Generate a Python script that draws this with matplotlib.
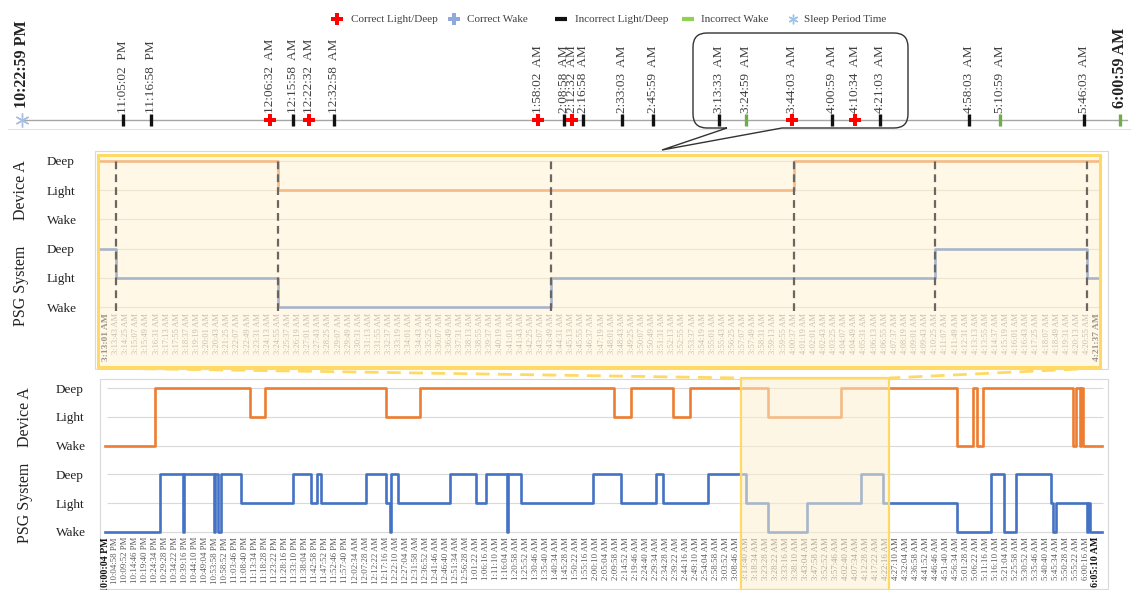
import matplotlib
matplotlib.use('Agg')
import matplotlib.pyplot as plt
from matplotlib.patches import Rectangle, PathPatch
from matplotlib.path import Path

W, H, DPI = 1134, 590, 100
plt.rcParams['font.family'] = ['Liberation Serif', 'DejaVu Serif']

# ---------------- data ----------------
stage_names = ['Wake', 'Light', 'Deep']

device_a_times = ['10:00:04 PM', '10:24:34 PM', '11:10:46 PM', '11:18:28 PM', '12:17:16 AM',
                  '12:34:04 AM', '2:09:16 AM', '2:17:40 AM', '2:37:58 AM', '2:46:22 AM',
                  '3:24:55 AM', '4:00:37 AM', '4:57:16 AM', '5:04:58 AM', '5:07:04 AM',
                  '5:09:52 AM', '5:53:58 AM', '5:55:22 AM', '5:57:28 AM', '5:58:10 AM',
                  '5:58:52 AM', '6:08:16 AM']
device_a_stages = ['Wake', 'Deep', 'Light', 'Deep', 'Light',
                   'Deep', 'Light', 'Deep', 'Light', 'Deep',
                   'Light', 'Deep', 'Wake', 'Deep', 'Wake',
                   'Deep', 'Wake', 'Deep', 'Wake', 'Deep',
                   'Wake', 'Wake']

psg_times = ['10:00:04 PM', '10:26:40 PM', '10:37:52 PM', '10:38:34 PM', '10:53:16 PM',
             '10:53:58 PM', '10:55:22 PM', '10:56:46 PM', '11:06:34 PM', '11:31:46 PM',
             '11:40:52 PM', '11:43:40 PM', '11:45:46 PM', '12:07:28 AM', '12:17:16 AM',
             '12:19:22 AM', '12:20:04 AM', '12:23:34 AM', '12:48:46 AM', '1:01:22 AM',
             '1:06:16 AM', '1:16:46 AM', '1:17:28 AM', '1:23:46 AM', '1:58:46 AM',
             '2:12:46 AM', '2:29:34 AM', '2:33:04 AM', '2:55:28 AM', '3:13:43 AM',
             '3:24:55 AM', '3:43:49 AM', '4:10:25 AM', '4:20:55 AM', '4:57:16 AM',
             '5:14:04 AM', '5:20:22 AM', '5:25:58 AM', '5:43:28 AM', '5:44:10 AM',
             '5:45:34 AM', '6:00:58 AM', '6:01:40 AM', '6:02:22 AM', '6:08:16 AM']
psg_stages = ['Wake', 'Deep', 'Wake', 'Deep', 'Wake',
              'Deep', 'Wake', 'Deep', 'Light', 'Deep',
              'Light', 'Deep', 'Light', 'Deep', 'Light',
              'Wake', 'Deep', 'Light', 'Deep', 'Light',
              'Deep', 'Wake', 'Deep', 'Light', 'Deep',
              'Light', 'Deep', 'Light', 'Deep', 'Light',
              'Wake', 'Light', 'Deep', 'Light', 'Wake',
              'Deep', 'Wake', 'Deep', 'Light', 'Wake',
              'Light', 'Wake', 'Light', 'Wake', 'Wake']

bottom_tick_first = '10:00:04 PM'
bottom_tick_step_s = 294
bottom_tick_count = 100

zoom_first = '3:13:01 AM'
zoom_last = '4:21:37 AM'
zoom_tick_step_s = 42
zoom_tick_count = 99

event_times = ['10:22:59 PM', '11:05:02 PM', '11:16:58 PM', '12:06:32 AM', '12:15:58 AM',
               '12:22:32 AM', '12:32:58 AM', '1:58:02 AM', '2:08:58 AM', '2:12:32 AM',
               '2:16:58 AM', '2:33:03 AM', '2:45:59 AM', '3:13:33 AM', '3:24:59 AM',
               '3:44:03 AM', '4:00:59 AM', '4:10:34 AM', '4:21:03 AM', '4:58:03 AM',
               '5:10:59 AM', '5:46:03 AM', '6:00:59 AM']
event_types = ['Sleep Period Time', 'Incorrect Light/Deep', 'Incorrect Light/Deep',
               'Correct Light/Deep', 'Incorrect Light/Deep', 'Correct Light/Deep',
               'Incorrect Light/Deep', 'Correct Light/Deep', 'Incorrect Light/Deep',
               'Correct Light/Deep', 'Incorrect Light/Deep', 'Incorrect Light/Deep',
               'Incorrect Light/Deep', 'Incorrect Light/Deep', 'Incorrect Wake',
               'Correct Light/Deep', 'Incorrect Light/Deep', 'Correct Light/Deep',
               'Incorrect Light/Deep', 'Incorrect Light/Deep', 'Incorrect Wake',
               'Incorrect Light/Deep', 'Incorrect Wake']

legend_items = ['Correct Light/Deep', 'Correct Wake', 'Incorrect Light/Deep',
                'Incorrect Wake', 'Sleep Period Time']

# ---------------- helpers ----------------
BASE = 22 * 3600 + 4  # clock seconds of the first epoch


def to_sec(s):
    hms, ap = s.split()
    h, m, sec = map(int, hms.split(':'))
    if ap == 'PM' and h != 12:
        h += 12
    if ap == 'AM' and h == 12:
        h = 0
    return (h * 3600 + m * 60 + sec - BASE) % 86400


def to_label(t):
    c = int(round(BASE + t)) % 86400
    h, rem = divmod(c, 3600)
    m, s = divmod(rem, 60)
    ap = 'AM' if h < 12 else 'PM'
    return f'{h % 12 or 12}:{m:02d}:{s:02d} {ap}'


dev_x = [to_sec(t) for t in device_a_times]
dev_y = [3 + stage_names.index(s) for s in device_a_stages]
psg_x = [to_sec(t) for t in psg_times]
psg_y = [stage_names.index(s) for s in psg_stages]

ORANGE = '#ED7D31'
BLUE = '#4472C4'
ORANGE_F = '#F4BA87'
BLUE_F = '#A7B5CA'

fig = plt.figure(figsize=(W / DPI, H / DPI), dpi=DPI)
fig.patch.set_facecolor('white')


def px_axes(x0, y0, x1, y1):
    return fig.add_axes([x0 / W, 1 - y1 / H, (x1 - x0) / W, (y1 - y0) / H])


# background decorations
ax_bg = px_axes(0, 0, W, H)
ax_bg.set_xlim(0, W); ax_bg.set_ylim(H, 0); ax_bg.axis('off')
ax_bg.add_patch(Rectangle((95, 151), 1108 - 95, 369 - 151, fc='white', ec='#D9D9D9', lw=0.8))
ax_bg.add_patch(Rectangle((98, 155), 1100 - 98, 367 - 155, fc='#FFF8E7', ec='none'))
ax_bg.add_patch(Rectangle((100, 379), 1108 - 100, 589 - 379, fc='white', ec='#D9D9D9', lw=0.8))
ax_bg.plot([8, 1130], [129, 129], color='#E3E3E3', lw=0.8)

# ---------------- timeline ----------------
ax_t = px_axes(10, 0, 1130, 135)
t0_evt = to_sec(event_times[0])
t1_evt = to_sec(event_times[-1])
sp = (t1_evt - t0_evt) / (1120 - 22)
ax_t.set_xlim(t0_evt - 12 * sp, t0_evt + (1130 - 22) * sp)
ax_t.set_ylim(135, 0)
ax_t.axis('off')
ax_t.plot([t0_evt, t0_evt + 1105 * sp], [120, 120], color='#A6A6A6', lw=1, zorder=1)

styles = {
    'Correct Light/Deep': dict(marker='P', color='#FF0000', ms=8, mew=0),
    'Correct Wake': dict(marker='P', color='#8EA9DB', ms=8, mew=0),
    'Incorrect Light/Deep': dict(marker='|', color='#111111', ms=8, mew=2.4),
    'Incorrect Wake': dict(marker='|', color='#70AD47', ms=8, mew=2.4),
    'Sleep Period Time': dict(marker=(6, 2, 0), color='#A9BFE0', ms=10, mew=1),
}
for i, (tt, typ) in enumerate(zip(event_times, event_types)):
    x = to_sec(tt)
    st = styles[typ]
    ax_t.plot([x], [120], linestyle='none', marker=st['marker'], ms=st['ms'],
              mfc=st['color'], mec=st['color'], mew=st['mew'], zorder=3)
    if i == 0 or i == len(event_times) - 1:
        ax_t.text(x, 108, tt, rotation=90, ha='center', va='bottom', fontsize=11.5,
                  fontweight='bold', color='#222222')
    else:
        hms, ap = tt.split()
        ax_t.text(x, 113, hms + '  ' + ap, rotation=90, ha='center', va='bottom',
                  fontsize=9.5, color='#404040')

# ---------------- zoomed panel ----------------
z0 = to_sec(zoom_first)
z1 = to_sec(zoom_last)
ax_m = px_axes(99, 152, 1100, 311)
ax_m.set_facecolor('none')
zl, zr = z0 - 29, z0 + 4128
ax_m.set_xlim(zl, zr)
ax_m.set_ylim(-(311 - 307) / 29.2, 5 + (161 - 152) / 29.2)
for s in ax_m.spines.values():
    s.set_visible(False)
ax_m.hlines(range(6), zl, zr, color='#EEE4D0', lw=0.8, zorder=1)
ax_m.plot(dev_x, dev_y, drawstyle='steps-post', color=ORANGE_F, lw=1.9, zorder=3)
ax_m.plot(psg_x, psg_y, drawstyle='steps-post', color=BLUE_F, lw=1.9, zorder=3)
trans = set()
for xs, ys in ((dev_x, dev_y), (psg_x, psg_y)):
    for i in range(1, len(xs)):
        if ys[i] != ys[i - 1] and z0 < xs[i] < zr:
            trans.add(xs[i])
ax_m.vlines(sorted(trans), -0.12, 5.02, colors='#6B665F', lw=1.6,
            linestyles=(0, (3.5, 2.3)), zorder=4)
ax_m.set_yticks(range(6), stage_names + stage_names)
zt = [z0 + k * zoom_tick_step_s for k in range(zoom_tick_count)]
ax_m.set_xticks(zt, [to_label(t) for t in zt], rotation=90, fontsize=6, color='#C6BFB3')
ax_m.tick_params(axis='x', length=0, pad=1.5)
ax_m.tick_params(axis='y', length=0, pad=52 * 0.72, labelsize=9.5, labelcolor='#222222')
for lab in ax_m.get_yticklabels():
    lab.set_ha('left')
xl = ax_m.get_xticklabels()
for lab in (xl[0], xl[-1]):
    lab.set_fontweight('bold'); lab.set_color('#9C958B'); lab.set_fontsize(6.8)

# ---------------- whole night panel ----------------
ax_b = px_axes(104, 379, 1105, 535)
ax_b.set_facecolor('none')
bl, br = -44, 29385
ax_b.set_xlim(bl, br)
ax_b.set_ylim(-3 / 28.8, 5 + 9 / 28.8)
for s in ax_b.spines.values():
    s.set_visible(False)
ax_b.hlines(range(6), bl + 100, br - 60, color='#D9D9D9', lw=0.8, zorder=1)
ax_b.plot(dev_x, dev_y, drawstyle='steps-post', color=ORANGE, lw=1.9, zorder=3)
ax_b.plot(psg_x, psg_y, drawstyle='steps-post', color=BLUE, lw=1.9, zorder=3)
ax_b.set_yticks(range(6), stage_names + stage_names)
b0 = to_sec(bottom_tick_first)
bt = [b0 + k * bottom_tick_step_s for k in range(bottom_tick_count)]
ax_b.set_xticks(bt, [to_label(t) for t in bt], rotation=90, fontsize=6.3, color='#595959')
ax_b.tick_params(axis='x', length=0, pad=1.5)
ax_b.tick_params(axis='y', length=0, pad=48 * 0.72, labelsize=9.5, labelcolor='#222222')
for lab in ax_b.get_yticklabels():
    lab.set_ha('left')
xl = ax_b.get_xticklabels()
for lab in (xl[0], xl[-1]):
    lab.set_fontweight('bold'); lab.set_color('#111111'); lab.set_fontsize(7.2)

# ---------------- foreground decorations ----------------
ax_fg = px_axes(0, 0, W, H)
ax_fg.set_xlim(0, W); ax_fg.set_ylim(H, 0); ax_fg.axis('off')

# group labels
for x, y, s in ((21, 190, 'Device A'), (21, 286, 'PSG System'),
                (25, 417, 'Device A'), (25, 503, 'PSG System')):
    ax_fg.text(x, y, s, rotation=90, ha='center', va='center', fontsize=11.5, color='#222222')

# yellow frame of the zoomed panel
ax_fg.add_patch(Rectangle((98, 155), 1100 - 98, 367 - 155, fill=False, ec='#FFD966', lw=2.2))

# highlight of the zoomed window on the whole-night panel
hx0 = ax_b.transData.transform((z0, 0))[0] - 3
hx1 = ax_b.transData.transform((z1, 0))[0] + 5
ax_fg.add_patch(Rectangle((hx0, 378), hx1 - hx0, 590 - 378, fc='#FCEFCF', ec='none', alpha=0.55))
ax_fg.add_patch(Rectangle((hx0, 378), hx1 - hx0, 590 - 378, fill=False, ec='#FFD966', lw=1.6))
ax_fg.plot([98, hx0], [368, 378], color='#FFD966', lw=2, ls=(0, (5, 3)))
ax_fg.plot([1100, hx1], [368, 378], color='#FFD966', lw=2, ls=(0, (5, 3)))

# callout around the zoomed events
r = 14
L, R, T, B = 693, 908, 33, 128
verts = [(727, B), (L + r, B), (L, B), (L, B - r), (L, T + r), (L, T), (L + r, T),
         (R - r, T), (R, T), (R, T + r), (R, B - r), (R, B), (R - r, B),
         (782, B), (662, 150), (727, B)]
codes = [Path.MOVETO, Path.LINETO, Path.CURVE3, Path.CURVE3, Path.LINETO, Path.CURVE3, Path.CURVE3,
         Path.LINETO, Path.CURVE3, Path.CURVE3, Path.LINETO, Path.CURVE3, Path.CURVE3,
         Path.LINETO, Path.LINETO, Path.LINETO]
ax_fg.add_patch(PathPatch(Path(verts, codes), fill=False, ec='#333333', lw=1))

# legend
leg_mx = [337, 454, 561, 688, 793]
leg_tx = [351, 467, 575, 701, 804]
leg_style = {
    'Correct Light/Deep': dict(marker='P', color='#FF0000', ms=8, mew=0),
    'Correct Wake': dict(marker='P', color='#8EA9DB', ms=8, mew=0),
    'Incorrect Light/Deep': dict(marker='_', color='#111111', ms=9, mew=3),
    'Incorrect Wake': dict(marker='_', color='#92D050', ms=9, mew=3),
    'Sleep Period Time': dict(marker=(6, 2, 0), color='#9DC3E6', ms=7, mew=1),
}
for name, mx, tx in zip(legend_items, leg_mx, leg_tx):
    st = leg_style[name]
    ax_fg.plot([mx], [19], linestyle='none', marker=st['marker'], ms=st['ms'],
               mfc=st['color'], mec=st['color'], mew=st['mew'])
    ax_fg.text(tx, 19, name, ha='left', va='center', fontsize=8, color='#404040')

fig.savefig('out.png', dpi=DPI)
